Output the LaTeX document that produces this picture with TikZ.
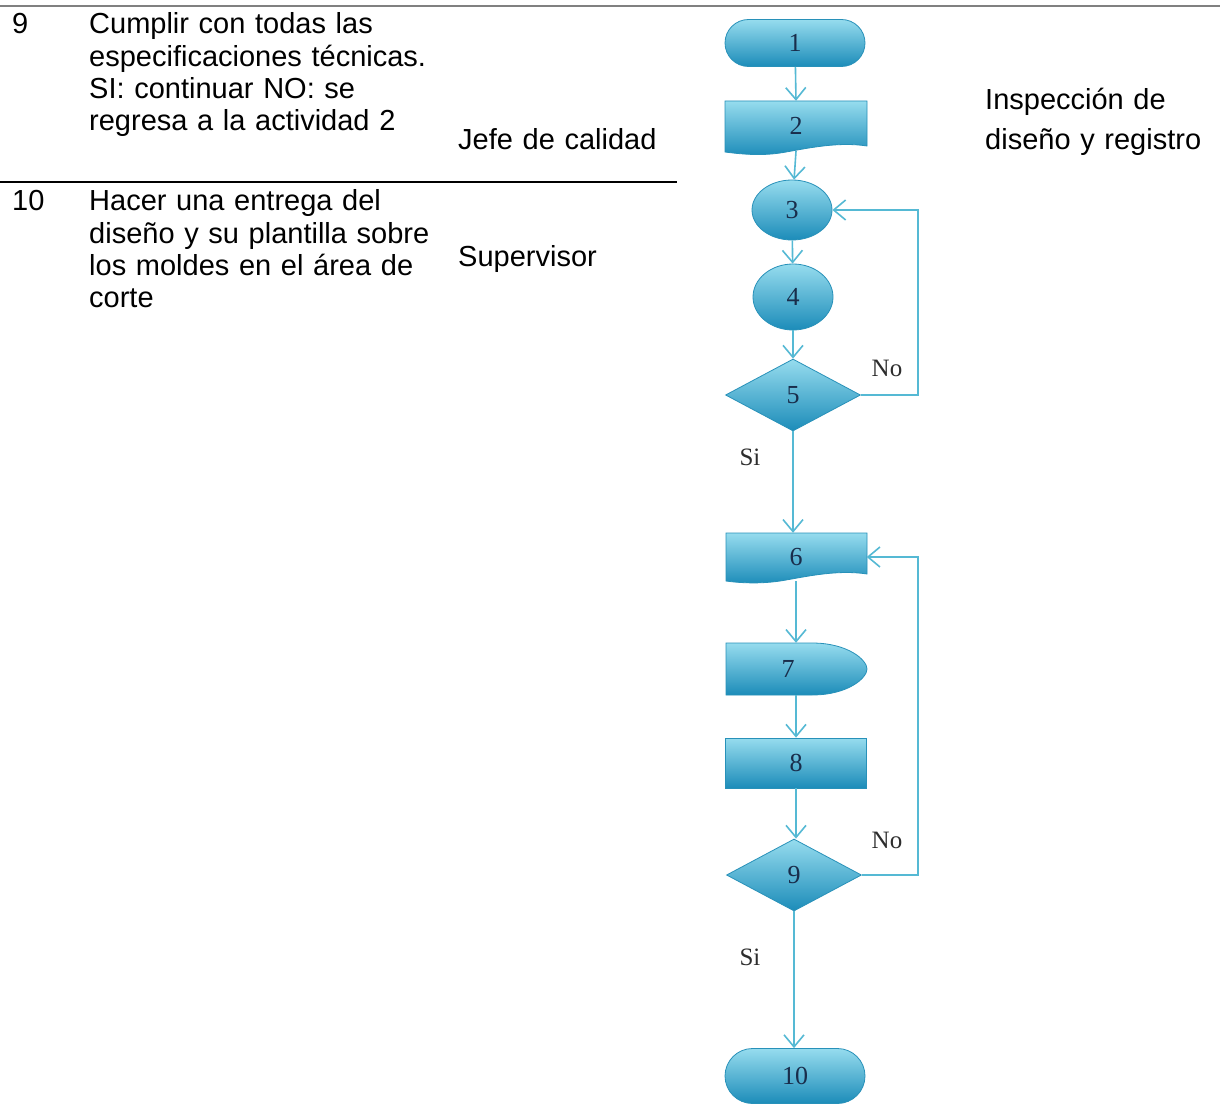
\documentclass[tikz,border=0pt]{standalone}
\usepackage{fontspec}
\setmainfont{Liberation Sans}
\newfontfamily\numfont{Liberation Serif}
\usetikzlibrary{arrows.meta,shapes.geometric,shapes.misc,backgrounds}

\definecolor{fcTop}{RGB}{150,220,238}
\definecolor{fcMid}{RGB}{60,178,214}
\definecolor{fcBot}{RGB}{28,140,185}
\definecolor{fcEdge}{RGB}{40,145,185}
\definecolor{lnCol}{RGB}{85,185,212}
\definecolor{numCol}{RGB}{25,45,75}
\definecolor{lblCol}{RGB}{45,45,45}

\tikzset{
  tabtext/.style={anchor=base west, inner sep=0, align=left, text width=#1,
    font=\fontsize{29}{32.3}\selectfont},
  sidetext/.style={anchor=base west, inner sep=0, align=left, text width=#1,
    font=\fontsize{29}{40}\selectfont},
  fillshade/.style={top color=fcTop, middle color=fcMid, bottom color=fcBot,
    draw=fcEdge, line width=0.8},
  flownum/.style={font=\numfont\fontsize{26}{26}\selectfont, text=numCol, inner sep=0},
  term/.style={rounded rectangle, minimum width=140, minimum height=#1, fillshade, flownum},
  circ/.style={ellipse, minimum width=80, minimum height=#1, fillshade, flownum},
  decision/.style={diamond, minimum width=135, minimum height=72, fillshade, flownum},
  procbox/.style={rectangle, minimum width=141, minimum height=50, fillshade, flownum},
  bare/.style={rectangle, minimum width=141, minimum height=#1, flownum},
  conn/.style={draw=lnCol, line width=1.6, -{Straight Barb[length=12pt,width=20pt]}},
  link/.style={draw=lnCol, line width=1.6},
  answer/.style={font=\numfont\fontsize{25}{25}\selectfont, text=lblCol, inner sep=0},
}

\begin{document}
\begin{tikzpicture}[x=1pt,y=-1pt]
\useasboundingbox (0,0) rectangle (1220,1115);

% table rules
\draw[gray, line width=2.5] (0,6) -- (1220,6);
\draw[black, line width=1.6] (0,182) -- (677,182);

% table rows
\node[tabtext=60]  (num9)   at (12,34)  {9};
\node[tabtext=360] (txt9)   at (89,34)  {Cumplir con todas las\\especificaciones técnicas.\\SI: continuar NO: se\\regresa a la actividad 2};
\node[tabtext=220] (resp9)  at (458,150) {Jefe de calidad};
\node[tabtext=60]  (num10)  at (12,211) {10};
\node[tabtext=360] (txt10)  at (89,211) {Hacer una entrega del\\diseño y su plantilla sobre\\los moldes en el área de\\corte};
\node[tabtext=220] (resp10) at (458,267) {Supervisor};
\node[sidetext=235] (proc)  at (985,110) {Inspección de\\diseño y registro};

% flowchart nodes
\node[term=47]   (n1)  at (795,43)   {1};
\node[bare=50]   (n2)  at (796,126)  {2};
\node[circ=60]   (n3)  at (792,210)  {3};
\node[circ=66]   (n4)  at (793,297)  {4};
\node[decision]  (n5)  at (793,395)  {5};
\node[bare=48]   (n6)  at (796,557)  {6};
\node[bare=52]   (n7)  at (788,669)  {7};
\node[procbox]   (n8)  at (796,763)  {8};
\node[decision]  (n9)  at (794,875)  {9};
\node[term=55]   (n10) at (795,1076) {10};

\begin{scope}[on background layer]
  \fill[white] (0,0) rectangle (1220,1115);
  % document shapes
  \path[fillshade] (725,101) -- (867,101) -- (867,146)
     .. controls (835,141) and (800,150) .. (780,153)
     .. controls (760,156) and (740,154) .. (725,152) -- cycle;
  \path[fillshade] (726,533) -- (867,533) -- (867,574)
     .. controls (835,569) and (800,578) .. (780,581)
     .. controls (760,584) and (740,583) .. (726,581) -- cycle;
  % delay shape
  \path[fillshade] (726,643) -- (812,643)
     .. controls (848,643) and (867,660) .. (867,669)
     .. controls (867,678) and (848,695) .. (812,695)
     -- (726,695) -- cycle;
\end{scope}

% connectors
\coordinate (loopx) at (918,0);
\draw[conn] (n1) -- (n2.north);
\draw[conn] (n2.south) -- (n3);
\draw[conn] (n3) -- (n4);
\draw[conn] (n4) -- (n5);
\draw[conn] (n5.south) -- (n5.south |- n6.north);
\draw[conn] (n6.south) -- (n6.south |- n7.north);
\draw[conn] (n7.south -| n8.north) -- (n8.north);
\draw[conn] (n8.south) -- (n8.south |- n9.north);
\draw[conn] (n9.south) -- (n9.south |- n10.north);
\draw[conn] (n5.east) -- (n5.east -| loopx) -- (loopx |- n3.east) -- (n3.east);
\draw[conn] (n9.east) -- (n9.east -| loopx) -- (loopx |- n6.east) -- (n6.east);

% branch labels
\node[answer] (no5) at (887,368) {No};
\node[answer] (si5) at (750,457) {Si};
\node[answer] (no9) at (887,840) {No};
\node[answer] (si9) at (750,957) {Si};
\end{tikzpicture}
\end{document}
